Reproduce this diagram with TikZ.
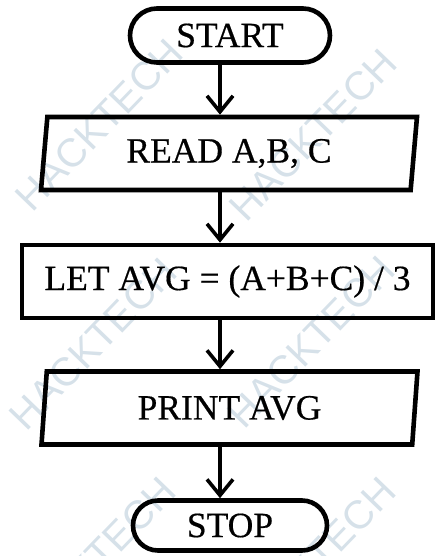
\documentclass[tikz,border=0pt]{standalone}
\usepackage{fontspec}
\setmainfont{Liberation Serif}[FakeBold=0.5]
\newfontfamily\wmfont{Liberation Sans}
\usetikzlibrary{shapes.geometric,shapes.misc,arrows.meta}
\definecolor{wmcol}{RGB}{214,225,233}
\begin{document}
\begin{tikzpicture}[x=1pt,y=-1pt,
  wmark/.style={text=wmcol, font=\wmfont\fontsize{40}{44}\selectfont, rotate=46, inner sep=0pt},
  box/.style={draw, line width=4.6pt, font=\fontsize{35.5}{40}\selectfont, inner sep=0pt},
  term/.style={box, rounded rectangle},
  io/.style={box, trapezium, trapezium left angle=77.6, trapezium right angle=102.4,
    trapezium stretches body, minimum width=376pt, minimum height=73pt},
  proc/.style={box, rectangle, minimum width=411pt, minimum height=73pt},
  arr/.style={line width=3.6pt, -{Straight Barb[length=16pt,width=26pt]}}]
\useasboundingbox (0,0) rectangle (437,556);
% watermark
\node[wmark] (w1) at (99,125) {HACKTECH};
\node[wmark] (w2) at (313,135) {HACKTECH};
\node[wmark] (w3) at (93,344) {HACKTECH};
\node[wmark] (w4) at (311,342) {HACKTECH};
\node[wmark] (w5) at (92,563) {HACKTECH};
\node[wmark] (w6) at (312,563) {HACKTECH};
% flowchart
\node[term, minimum width=200pt, minimum height=54pt] (start) at (230,35.5) {START};
\node[io] (read) at (229,153.5) {READ A,B, C};
\node[proc] (let) at (227.5,281.5) {LET AVG = (A+B+C) / 3};
\node[io] (print) at (229.5,408) {PRINT AVG};
\node[term, minimum width=194pt, minimum height=50pt] (stop) at (230,525.5) {STOP};
\coordinate (ax) at (220,0);
\draw[arr] (start.south -| ax) -- (read.north -| ax);
\draw[arr] (read.south -| ax) -- (let.north -| ax);
\draw[arr] (let.south -| ax) -- (print.north -| ax);
\draw[arr] (print.south -| ax) -- (stop.north -| ax);
\end{tikzpicture}
\end{document}
